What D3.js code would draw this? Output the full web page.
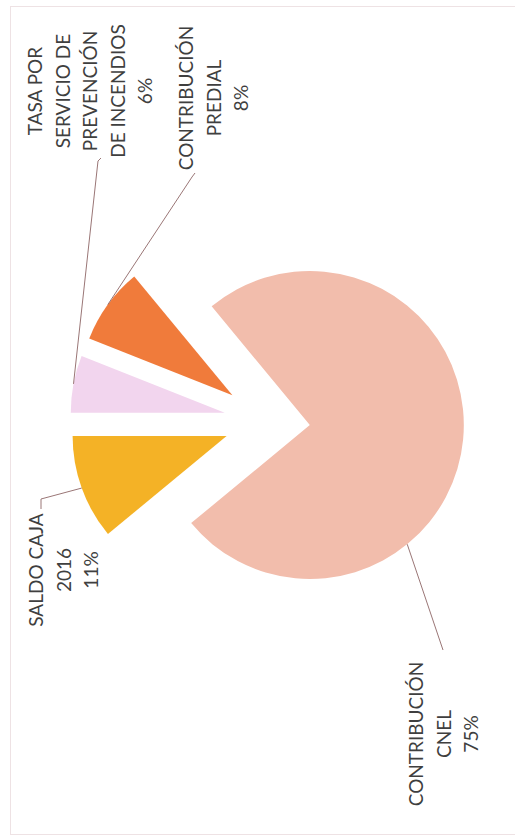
<!DOCTYPE html>
<html>
<head>
<meta charset="utf-8">
<script src="https://cdn.jsdelivr.net/npm/d3@7"></script>
<style>
	body { margin: 0; background: #fff; }
</style>
</head>
<body>
<div id="chart"></div>
<script>
// data (in the order the slices run clockwise, starting at the yellow one)
var categories = ["SALDO CAJA 2016", "TASA POR SERVICIO DE PREVENCIÓN DE INCENDIOS", "CONTRIBUCIÓN PREDIAL", "CONTRIBUCIÓN CNEL"];
var labelLines = [
	["SALDO CAJA", "2016"],
	["TASA POR", "SERVICIO DE", "PREVENCIÓN", "DE INCENDIOS"],
	["CONTRIBUCIÓN", "PREDIAL"],
	["CONTRIBUCIÓN", "CNEL"]
];
var values = [11, 6, 8, 75];
var colors = ["#f4b226", "#f2d5ee", "#f07b3b", "#f2bdac"];

var width = 515,
	height = 840,
	radius = 154,
	center = {x: 268, y: 421},
	explode = [44, 44, 44, 42],
	lineStep = 27.5;

// label placement (the whole chart is turned a quarter to the left)
var labelPos = [
	{x: 43, y: 570},
	{x: 42, y: 91},
	{x: 193, y: 98},
	{x: 423, y: 734}
];
var leaderAt = [0.5, 0.5, 0.5, 0.668];
var leaderFrom = [
	[[41, 509], [41, 499]],
	[[101, 158], [98, 161]],
	[[195, 173], [192, 177]],
	[[443, 650]]
];

var svg = d3.select("#chart")
	.append("svg")
	.attr("width", width)
	.attr("height", height);

svg.append("rect")
	.attr("x", 10.5)
	.attr("y", 6.5)
	.attr("width", 530)
	.attr("height", 828)
	.attr("fill", "none")
	.attr("stroke", "#eee2e4");

var total = d3.sum(values);
var start = 1.5 * Math.PI - 2 * Math.PI * values[0] / total;

var pie = d3.pie()
	.sort(null)
	.startAngle(start)
	.endAngle(start + 2 * Math.PI);

var arc = d3.arc()
	.innerRadius(0)
	.outerRadius(radius);

var slices = pie(values);

function apex(d, i) {
	var mid = (d.startAngle + d.endAngle) / 2;
	return {
		x: center.x + explode[i] * Math.sin(mid),
		y: center.y - explode[i] * Math.cos(mid)
	};
}

svg.selectAll("path.slice")
	.data(slices)
	.enter()
	.append("path")
	.attr("class", "slice")
	.attr("transform", function(d, i) {
		var p = apex(d, i);
		return "translate(" + p.x + "," + p.y + ")";
	})
	.attr("d", arc)
	.attr("fill", function(d, i) { return colors[i]; });

// leader lines
svg.selectAll("path.leader")
	.data(slices)
	.enter()
	.append("path")
	.attr("class", "leader")
	.attr("fill", "none")
	.attr("stroke", "#9a7676")
	.attr("stroke-width", 1)
	.attr("d", function(d, i) {
		var p = apex(d, i);
		var a = d.startAngle + leaderAt[i] * (d.endAngle - d.startAngle);
		var pts = leaderFrom[i].slice();
		pts.push([p.x + radius * Math.sin(a), p.y - radius * Math.cos(a)]);
		return d3.line()(pts);
	});

// labels
var labels = svg.selectAll("g.label")
	.data(slices)
	.enter()
	.append("g")
	.attr("class", "label")
	.attr("transform", function(d, i) {
		return "translate(" + labelPos[i].x + "," + labelPos[i].y + ") rotate(-90)";
	});

var text = labels.append("text")
	.attr("text-anchor", "middle")
	.style("font-family", "Lato, 'Open Sans', sans-serif")
	.style("font-size", "19px")
	.attr("fill", "#3f3f3f");

text.each(function(d, i) {
	var lines = labelLines[i].concat([values[i] + "%"]);
	var t = d3.select(this);
	lines.forEach(function(l, j) {
		t.append("tspan")
			.attr("x", 0)
			.attr("y", j * lineStep)
			.text(l);
	});
});
</script>
</body>
</html>
